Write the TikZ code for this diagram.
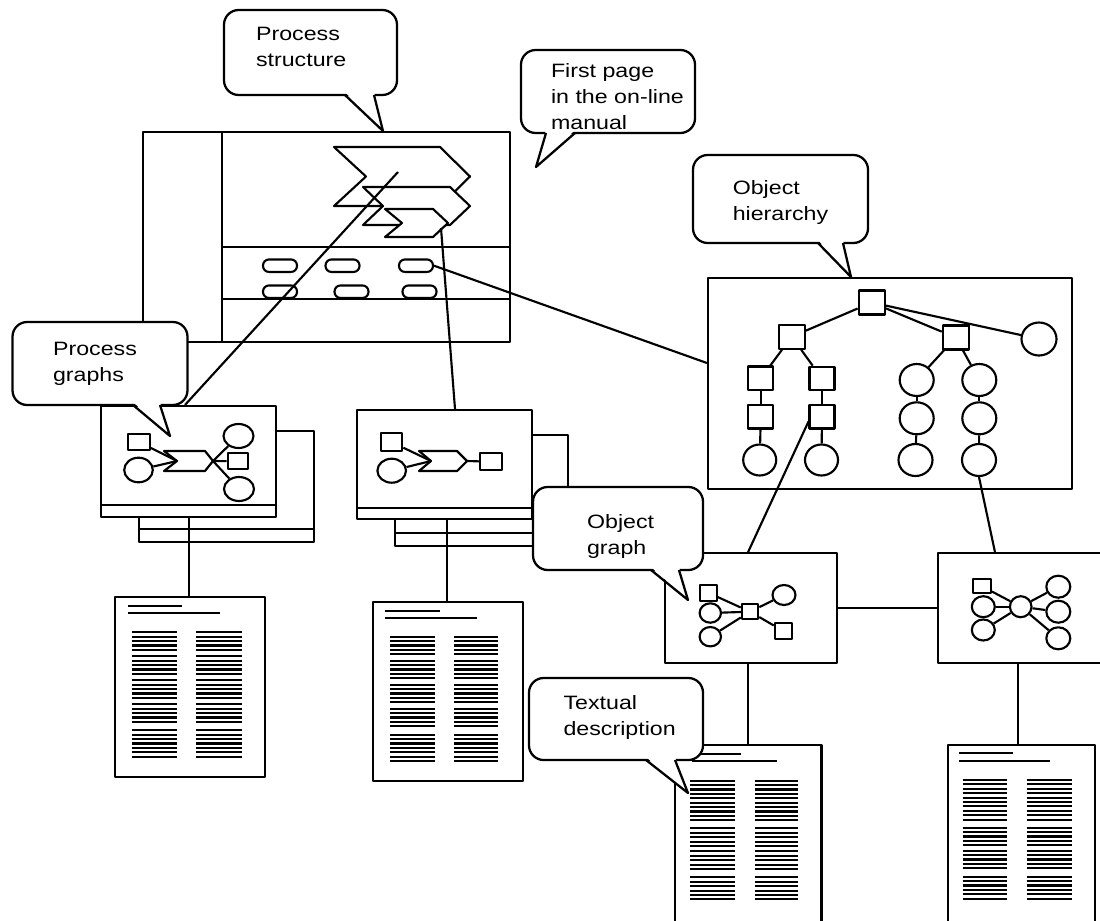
\documentclass[tikz,border=0pt]{standalone}
\usepackage{fontspec}
\setmainfont{Liberation Sans}[FakeStretch=1.2]
\usetikzlibrary{shapes.geometric,fit}
\newcommand{\mkbox}[5]{%
  \path (#2,#3) coordinate (#1-a) (#4,#5) coordinate (#1-b);
  \node[boxfr,fit=(#1-a)(#1-b)] (#1) {};}
\newcommand{\chev}[7]{%
  \coordinate (#1-tip) at (#6,{(#4+#5)/2});
  \coordinate (#1-notch) at (#7,{(#4+#5)/2});
  \draw[fill=white] (#2,#4) -- (#3,#4) -- (#1-tip) -- (#3,#5) -- (#2,#5) -- (#1-notch) -- cycle;}
\newcommand{\callout}[8]{%
  \coordinate (#1-tip) at (#8);
  \draw[bubble,rounded corners=11pt] (#2,#3) rectangle (#4,#5);
  \fill[white] (#6,{#5-3}) -- (#7,{#5-3}) -- (#1-tip) -- cycle;
  \draw[bubble,fill=none] (#6,#5) -- (#1-tip) -- (#7,#5);}
\newcommand{\doctitle}[5]{\draw[ttl] (#1,#2) -- (#3,#2) (#1,#4) -- (#5,#4);}
\newcommand{\doccols}[6]{%
  \foreach \gs/\gn in {#6}{%
    \foreach \i in {1,...,\gn}{%
      \pgfmathsetmacro{\yy}{#5+\gs+(\i-1)*4.4}%
      \draw[tline] (#1,\yy) -- (#2,\yy) (#3,\yy) -- (#4,\yy);}}}
\begin{document}
\begin{tikzpicture}[x=0.75pt,y=-0.75pt,line width=1.6pt,line join=round,
  bubble/.style={draw,fill=white,line width=1.7pt},
  lbl/.style={anchor=north west,inner sep=0pt,align=left,font=\fontsize{14.5pt}{19.5pt}\selectfont},
  sqr/.style 2 args={draw,fill=white,rectangle,inner sep=0pt,minimum width=#1*0.75pt,minimum height=#2*0.75pt},
  elp/.style 2 args={draw,fill=white,ellipse,inner sep=0pt,minimum width=#1*0.75pt,minimum height=#2*0.75pt},
  pill/.style={draw,fill=white,rectangle,rounded corners=4.5pt,inner sep=0pt,minimum width=34*0.75pt,minimum height=12.5*0.75pt},
  boxfr/.style={draw,fill=white,inner sep=0pt},
  tline/.style={line width=1.6pt},
  ttl/.style={line width=1.5pt}]
\useasboundingbox (0,0) rectangle (1100,921);
\fill[white] (0,0) rectangle (1100,921);
\clip (0,0) rectangle (1100,921);

% ---------- first page window ----------
\mkbox{win}{143}{132}{510}{342}
\draw (222,132) -- (222,342);
\draw (222,247) -- (510,247);
\draw (222,299) -- (510,299);
\node[pill] (ov11) at (280,265.7) {};
\node[pill] (ov12) at (342.5,265.7) {};
\node[pill] (ov13) at (416,265.7) {};
\node[pill] (ov21) at (280,291.7) {};
\node[pill] (ov22) at (351.5,291.7) {};
\node[pill] (ov23) at (419.5,291.7) {};
\chev{k1}{334}{440}{147}{206}{470}{366}
\chev{k2}{363}{450}{187}{225}{470}{383}
\chev{k3}{385}{433}{209}{237}{448}{402}
\coordinate (c1mid) at (398,172);
\coordinate (c3end) at (441,228);

% ---------- process graph pages ----------
\mkbox{pg1b}{139}{431}{314}{542}
\draw (139,529) -- (314,529);
\mkbox{pg1}{101}{406}{276}{517}
\draw (101,505) -- (276,505);
\node[sqr={21.7}{16}] (p1s) at (139,442) {};
\node[elp={28.6}{24.6}] (p1c) at (138.5,470) {};
\chev{p1}{164}{205}{451}{471}{213}{177}
\node[elp={30}{24}] (p1r1) at (238.5,436) {};
\node[sqr={20.5}{16}] (p1r2) at (238,461.3) {};
\node[elp={30}{24}] (p1r3) at (239,489) {};
\draw (p1s) -- (p1-notch);
\draw (p1c) -- (p1-notch);
\draw (p1-tip) -- (p1r1);
\draw (p1-tip) -- (p1r2);
\draw (p1-tip) -- (p1r3);

\mkbox{pg2b}{395}{435}{568}{546}
\draw (395,532.7) -- (568,532.7);
\mkbox{pg2}{357.3}{410}{532.3}{519.3}
\draw (357.3,508.3) -- (532.3,508.3);
\node[sqr={21.6}{17.4}] (p2s) at (391.5,442) {};
\node[elp={28.6}{24}] (p2c) at (391.7,470.7) {};
\chev{p2}{419}{457}{451}{471}{467}{431}
\node[sqr={21.7}{16.7}] (p2r) at (490.8,461.7) {};
\draw (p2s) -- (p2-notch);
\draw (p2c) -- (p2-notch);
\draw (p2-tip) -- (p2r);

% ---------- object hierarchy ----------
\mkbox{hier}{708}{278}{1072}{489}
\node[sqr={26}{24}] (hroot) at (871.7,302.5) {};
\node[sqr={26}{24}] (hl) at (791.7,336.7) {};
\node[sqr={26}{24}] (hr) at (955.8,337.5) {};
\node[elp={35}{33}] (hc) at (1039,339) {};
\node[sqr={25}{23.5}] (ha1) at (760.8,378.3) {};
\node[sqr={25}{23.5}] (ha2) at (760.8,416.7) {};
\node[elp={33}{31}] (ha3) at (759.7,460) {};
\node[sqr={25}{23.5}] (hb1) at (822,378.5) {};
\node[sqr={25}{23.5}] (hb2) at (822,416.7) {};
\node[elp={33}{31}] (hb3) at (821.5,460) {};
\node[elp={34}{32}] (hc1) at (916.7,380) {};
\node[elp={34}{32}] (hc2) at (916.7,418.3) {};
\node[elp={34}{32}] (hc3) at (915.5,460) {};
\node[elp={34}{32}] (hd1) at (979.3,380) {};
\node[elp={34}{32}] (hd2) at (979.3,418.3) {};
\node[elp={34}{32}] (hd3) at (979,460) {};
\draw (hroot) -- (hl);
\draw (hroot) -- (hr);
\draw (hroot) -- (hc);
\draw (hl) -- (ha1);
\draw (hl) -- (hb1);
\draw (ha1) -- (ha2);
\draw (ha2) -- (ha3);
\draw (hb1) -- (hb2);
\draw (hb2) -- (hb3);
\draw (hr) -- (hc1);
\draw (hr) -- (hd1);
\draw (hc1) -- (hc2);
\draw (hc2) -- (hc3);
\draw (hd1) -- (hd2);
\draw (hd2) -- (hd3);

% ---------- object graph pages ----------
\mkbox{og1}{665}{553.3}{836.7}{662.7}
\node[sqr={16.7}{15.7}] (o1s) at (708.4,592.8) {};
\node[elp={21.4}{19.4}] (o1c1) at (710.3,613) {};
\node[elp={21.4}{19.4}] (o1c2) at (710.3,636.7) {};
\node[sqr={16.3}{15.3}] (o1m) at (750,611.7) {};
\node[elp={23}{20}] (o1r) at (784,595) {};
\node[sqr={17}{15.5}] (o1q) at (783.3,631) {};
\draw (o1s) -- (o1m);
\draw (o1c1) -- (o1m);
\draw (o1c2) -- (o1m);
\draw (o1m) -- (o1r);
\draw (o1m) -- (o1q);

\mkbox{og2}{938.3}{553.3}{1115}{662.7}
\node[elp={23}{21}] (o2c1) at (983.3,606.7) {};
\node[sqr={17.4}{14}] (o2s) at (982,586.3) {};
\node[elp={23}{21}] (o2c2) at (983.3,630) {};
\node[elp={21.6}{21}] (o2m) at (1020.7,606.7) {};
\node[elp={24}{22}] (o2r1) at (1058.3,586.7) {};
\node[elp={24}{22}] (o2r2) at (1058.3,611.7) {};
\node[elp={24}{22}] (o2r3) at (1058.3,638.3) {};
\draw (o2s) -- (o2m);
\draw (o2c1) -- (o2m);
\draw (o2c2) -- (o2m);
\draw (o2m) -- (o2r1);
\draw (o2m) -- (o2r2);
\draw (o2m) -- (o2r3);

% ---------- documents ----------
\mkbox{d1}{115}{597}{265}{777}
\doctitle{128}{606}{182}{613.3}{220}
\doccols{131.7}{176.7}{196}{241.7}{632.3}{0/5,24/5,48/5,72/5,98/7}
\mkbox{d2}{373.3}{601.7}{522.7}{781}
\doctitle{385}{611}{440}{618.3}{477.3}
\doccols{390}{435}{454}{498.3}{636.7}{0/5,24/5,48/5,72/5,98/7}
\mkbox{d3}{674.6}{745}{821.5}{940}
\doctitle{692}{754}{741}{761}{777}
\doccols{690}{735.3}{755}{798.2}{780.7}{0/10,47.7/5,70.7/5,96.7/6}
\mkbox{d4}{948.3}{745}{1095}{940}
\doctitle{959.3}{753.3}{1013.3}{761}{1050}
\doccols{962.7}{1007.3}{1026.7}{1071.7}{780}{0/10,47.7/5,70.7/5,96.7/6}

% ---------- connectors ----------
\path (185,0) coordinate (xa) (455,0) coordinate (xb) (189,0) coordinate (xc)
      (447,0) coordinate (xd) (748,0) coordinate (xe) (1018,0) coordinate (xf)
      (748,0) coordinate (xg) (995,0) coordinate (xh)
      (0,363) coordinate (ya) (0,607.7) coordinate (yb);
\draw (c1mid) -- (pg1.north -| xa);
\draw (c3end) -- (pg2.north -| xb);
\draw (ov13.east) -- (hier.west |- ya);
\draw (pg1.south -| xc) -- (d1.north -| xc);
\draw (pg2.south -| xd) -- (d2.north -| xd);
\draw (og1.south -| xe) -- (d3.north -| xe);
\draw (og2.south -| xf) -- (d4.north -| xf);
\draw (og1.east |- yb) -- (og2.west |- yb);
\draw (hb2.200) -- (og1.north -| xg);
\draw (hd3.south) -- (og2.north -| xh);

% ---------- callouts ----------
\callout{cps}{224}{10}{397}{95}{345}{374}{383,131}
\node[lbl] (tps) at (255,26) {Process\\structure};
\callout{cfp}{521}{50}{695}{133}{546}{575}{536,167}
\node[lbl] (tfp) at (550,62) {First page\\in the on-line\\manual};
\callout{coh}{693}{155}{868}{243}{818}{843}{851,277}
\node[lbl] (toh) at (731.7,179.5) {Object\\hierarchy};
\callout{cpg}{12.5}{322}{187.5}{405}{133}{160}{170,436}
\node[lbl] (tpg) at (52,341.5) {Process\\graphs};
\callout{cog}{533}{487}{703}{570}{651}{679}{688,600}
\node[lbl] (tog) at (586,513.5) {Object\\graph};
\callout{ctd}{529}{678}{703}{760}{646}{675}{688,793}
\node[lbl] (ttd) at (562.5,694.7) {Textual\\description};
\end{tikzpicture}
\end{document}
